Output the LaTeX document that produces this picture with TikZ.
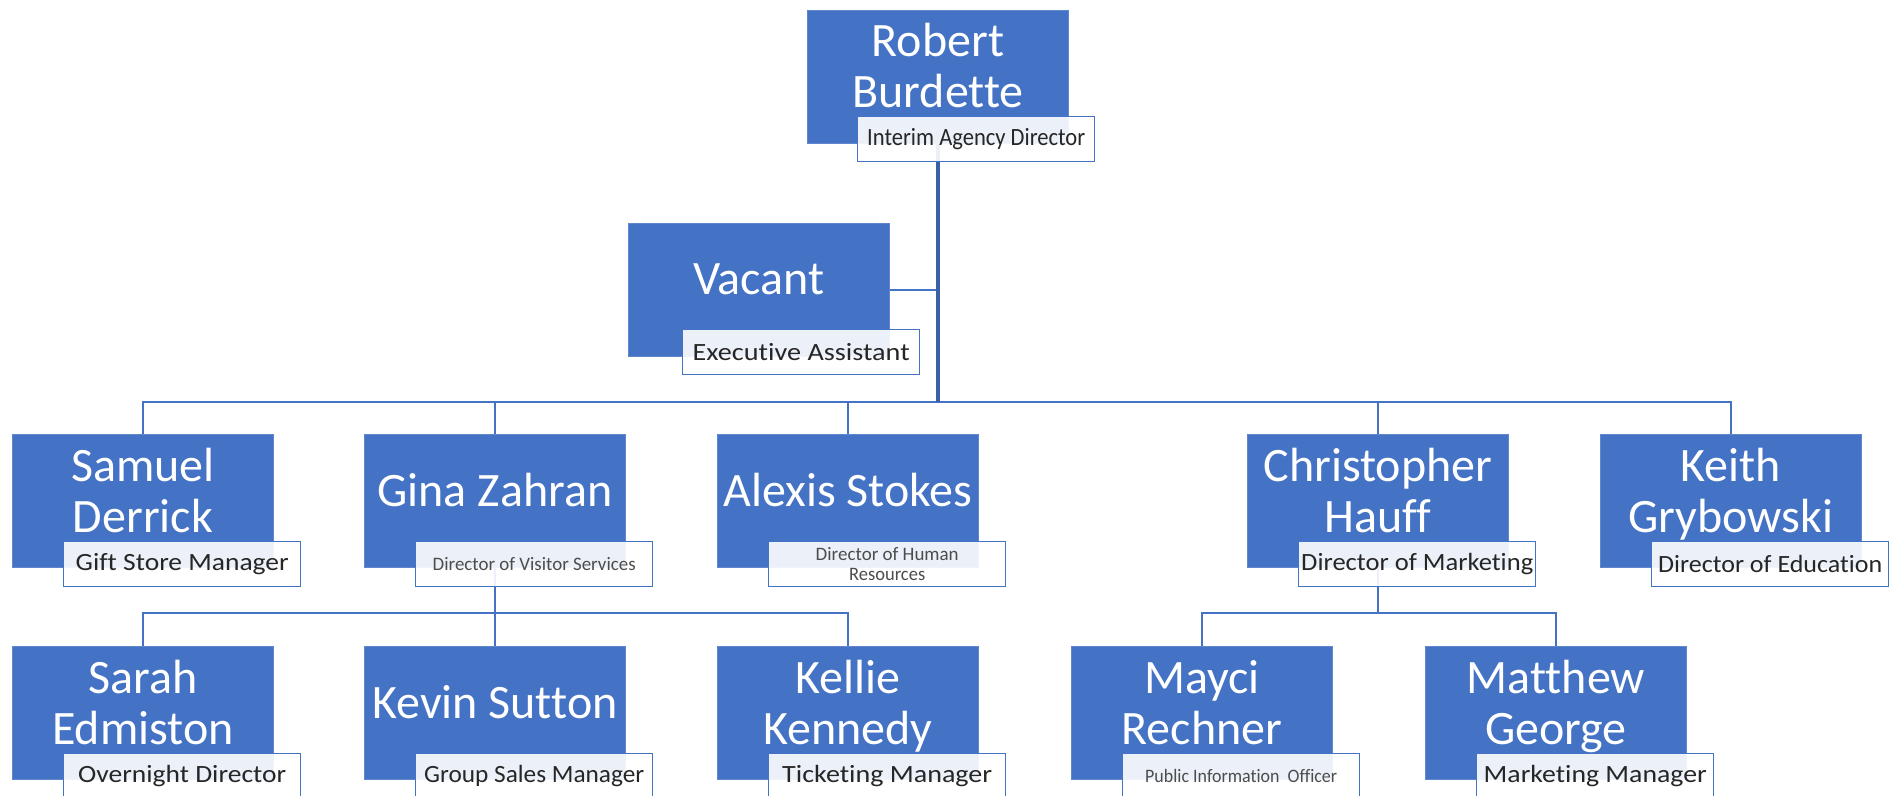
\documentclass[tikz,border=0pt]{standalone}
\usepackage{fontspec}
\setmainfont{Carlito}[Ligatures={NoCommon}]
\usetikzlibrary{calc,backgrounds}
\definecolor{obl}{HTML}{4472C4}
\newcommand\fw[2]{\resizebox{#1}{\height}{#2}}
\newcommand\twol[2]{\begin{tabular}[t]{@{}c@{}}#1\\#2\end{tabular}}
\tikzset{
  person/.style={rectangle, fill=obl, draw=obl!85!white, line width=0.4pt,
    minimum width=130.5pt, minimum height=66.5pt, inner sep=0pt, anchor=north west},
  role/.style={rectangle, draw=obl, line width=0.7pt, fill=white, fill opacity=0.9,
    text opacity=1, minimum width=118.5pt, minimum height=22.5pt, inner sep=0pt,
    anchor=north west, align=center, text=black!85, font=\fontsize{12.4}{14}\selectfont},
  smallrole/.style={role, font=\fontsize{9.5}{10}\selectfont, text=black!70},
  nm/.style={text=white, font=\fontsize{24}{25.5}\selectfont, inner sep=0pt, anchor=base},
  conn/.style={draw=obl, line width=1.1pt},
  trunk/.style={draw=obl!85!black, line width=2pt},
}
\begin{document}
\begin{tikzpicture}[x=0.5pt,y=-0.5pt]
\useasboundingbox (0,0) rectangle (1899,796);
% ---- people boxes
\node[person] (robert) at (807,10) {};
\node[person] (vacant) at (628,223) {};
\node[person] (samuel) at (12,434) {};
\node[person] (gina) at (364,434) {};
\node[person] (alexis) at (717,434) {};
\node[person] (christopher) at (1247,434) {};
\node[person] (keith) at (1600,434) {};
\node[person] (sarah) at (12,646) {};
\node[person] (kevin) at (364,646) {};
\node[person] (kellie) at (717,646) {};
\node[person] (mayci) at (1071,646) {};
\node[person] (matthew) at (1425,646) {};
% ---- names
\node[nm] (robertN) at ($(robert.north)+(0,47)$) {\twol{Robert}{Burdette}};
\node[nm] (vacantN) at ($(vacant.north)+(0,72)$) {Vacant};
\node[nm] (samuelN) at ($(samuel.north)+(0,47)$) {\twol{Samuel}{Derrick}};
\node[nm] (ginaN) at ($(gina.north)+(0,72)$) {Gina Zahran};
\node[nm] (alexisN) at ($(alexis.north)+(0,72)$) {Alexis Stokes};
\node[nm] (christopherN) at ($(christopher.north)+(0,47)$) {\twol{Christopher}{Hauff}};
\node[nm] (keithN) at ($(keith.north)+(0,47)$) {\twol{Keith}{Grybowski}};
\node[nm] (sarahN) at ($(sarah.north)+(0,47)$) {\twol{Sarah}{Edmiston}};
\node[nm] (kevinN) at ($(kevin.north)+(0,72)$) {Kevin Sutton};
\node[nm] (kellieN) at ($(kellie.north)+(0,47)$) {\twol{Kellie}{Kennedy}};
\node[nm] (mayciN) at ($(mayci.north)+(0,47)$) {\twol{Mayci}{Rechner}};
\node[nm] (matthewN) at ($(matthew.north)+(0,47)$) {\twol{Matthew}{George}};
% ---- roles
\node[role] (robertT) at ($(robert.south west)+(50,-28)$) {\fw{109pt}{Interim Agency Director}};
\node[role] (vacantT) at ($(vacant.south west)+(54,-28)$) {\fw{108.5pt}{Executive Assistant}};
\node[role] (samuelT) at ($(samuel.south west)+(51,-27)$) {\fw{106.5pt}{Gift Store Manager}};
\node[smallrole] (ginaT) at ($(gina.south west)+(51,-27)$) {\fw{101.5pt}{Director of Visitor Services}};
\node[smallrole] (alexisT) at ($(alexis.south west)+(51,-27)$) {\fw{71.5pt}{Director of Human}\\\fw{38pt}{Resources}};
\node[role] (christopherT) at ($(christopher.south west)+(51,-27)$) {\fw{116pt}{Director of Marketing}};
\node[role] (keithT) at ($(keith.south west)+(51,-27)$) {\fw{112pt}{Director of Education}};
\node[role] (sarahT) at ($(sarah.south west)+(51,-27)$) {\fw{104pt}{Overnight Director}};
\node[role] (kevinT) at ($(kevin.south west)+(51,-27)$) {\fw{110pt}{Group Sales Manager}};
\node[role] (kellieT) at ($(kellie.south west)+(51,-27)$) {\fw{105pt}{Ticketing Manager}};
\node[smallrole] (mayciT) at ($(mayci.south west)+(51,-27)$) {\fw{96pt}{Public Information\ \ Officer}};
\node[role] (matthewT) at ($(matthew.south west)+(51,-27)$) {\fw{111.5pt}{Marketing Manager}};
% ---- connectors
\coordinate (bus1) at (0,402);
\coordinate (bus2) at (0,613);
\begin{scope}[on background layer]
\fill[white] (0,0) rectangle (1899,796);
\draw[conn] (vacant.east) -- (vacant.east -| robert.south);
\foreach \c in {samuel,gina,alexis,christopher,keith}
  \draw[conn] (\c.north) |- (robert.south |- bus1);
\draw[trunk] (robert.south) -- (robert.south |- bus1);
\foreach \c in {sarah,kevin,kellie}
  \draw[conn] (\c.north) |- (gina.south |- bus2);
\draw[conn] (gina.south) -- (gina.south |- bus2);
\foreach \c in {mayci,matthew}
  \draw[conn] (\c.north) |- (christopher.south |- bus2);
\draw[conn] (christopher.south) -- (christopher.south |- bus2);
\end{scope}
\end{tikzpicture}
\end{document}
